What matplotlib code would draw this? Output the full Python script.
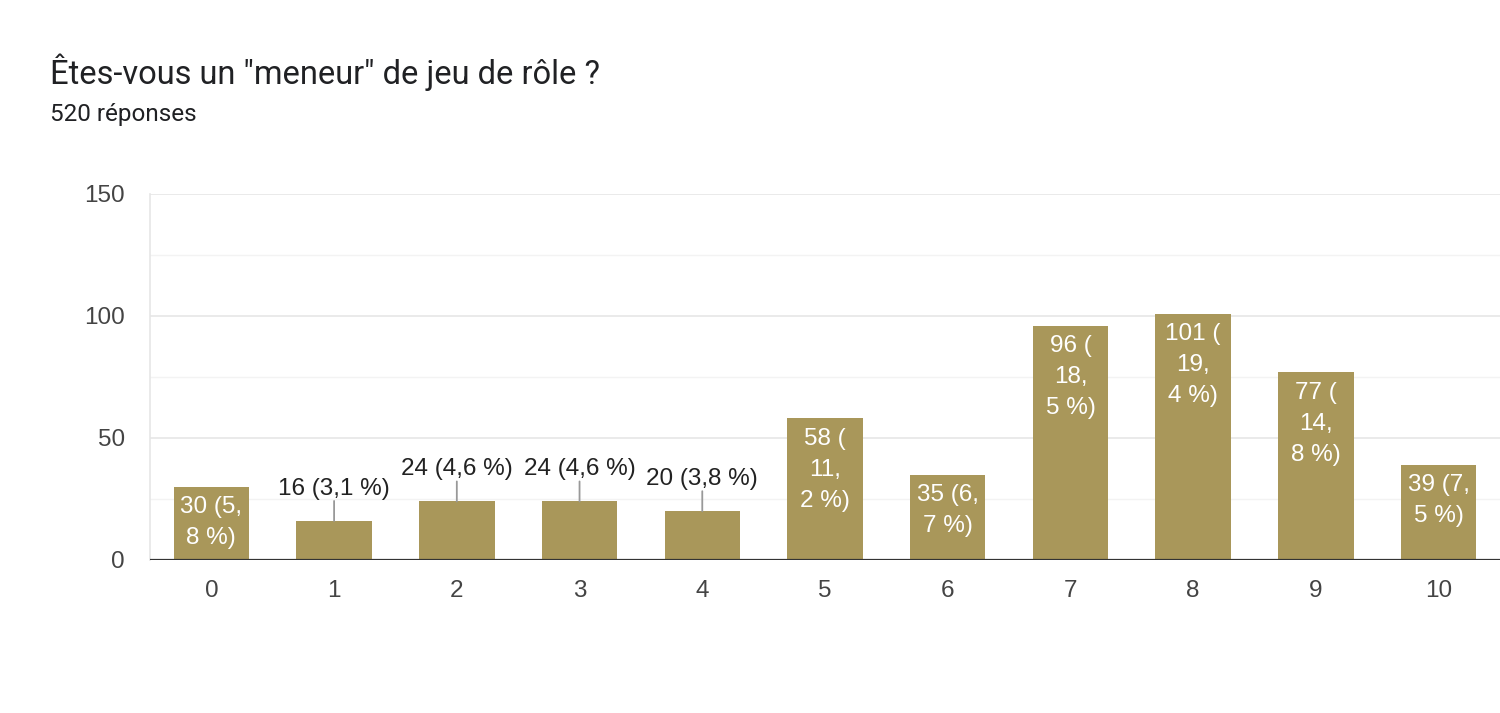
import matplotlib
matplotlib.use("Agg")
import matplotlib.pyplot as plt

categories = ["0", "1", "2", "3", "4", "5", "6", "7", "8", "9", "10"]
values = [30, 16, 24, 24, 20, 58, 35, 96, 101, 77, 39]
labels = ["30 (5,\n8 %)", "16 (3,1 %)", "24 (4,6 %)", "24 (4,6 %)", "20 (3,8 %)",
          "58 (\n11,\n2 %)", "35 (6,\n7 %)", "96 (\n18,\n5 %)", "101 (\n19,\n4 %)",
          "77 (\n14,\n8 %)", "39 (7,\n5 %)"]
inside = [True, False, False, False, False, True, True, True, True, True, True]
yticks = [0, 50, 100, 150]
minor_ticks = [25, 75, 125]

title = 'Êtes-vous un "meneur" de jeu de rôle ?'
subtitle = "520 réponses"

bar_color = "#a9975a"
px = 72 / 100.0  # points per pixel
fs = 17.5

fig = plt.figure(figsize=(15, 7.13), dpi=100)
ax = fig.add_axes([0.1, 1 - 560 / 713, 0.9, (560 - 194) / 713])

x = list(range(len(categories)))
ax.bar(x, values, width=0.615, color=bar_color, zorder=3)

ax.set_xlim(-0.5, 10.5)
ax.set_ylim(0, 150)

for t in yticks[1:]:
    ax.axhline(t, color="#e6e6e6", lw=1.2, zorder=1)
for t in minor_ticks:
    ax.axhline(t, color="#f3f3f3", lw=1.0, zorder=1)
ax.axhline(0, color="#333333", lw=1.6, zorder=4)

for s in ["top", "right", "bottom"]:
    ax.spines[s].set_visible(False)
ax.spines["left"].set_color("#e6e6e6")
ax.spines["left"].set_linewidth(1.2)

ax.set_yticks(yticks)
ax.set_yticklabels([str(t) for t in yticks])
ax.set_xticks(x)
ax.set_xticklabels(categories)
ax.tick_params(axis="both", length=0, labelsize=fs, labelcolor="#444444",
               labelfontfamily="Liberation Sans")
ax.tick_params(axis="y", pad=18)
ax.tick_params(axis="x", pad=14.5)

for xi, v, lab, ins in zip(x, values, labels, inside):
    if ins:
        for i, line in enumerate(lab.split("\n")):
            ax.annotate(line, (xi, v), xytext=(0, -(20.5 + 31 * i) * px),
                        textcoords="offset points", ha="center", va="center",
                        color="white", fontsize=fs, family="Liberation Sans",
                        zorder=5)
    else:
        ax.annotate("", (xi, v), xytext=(0, 20 * px), textcoords="offset points",
                    arrowprops=dict(arrowstyle="-", color="#999999", lw=1.3,
                                    shrinkA=0, shrinkB=0), zorder=5)
        ax.annotate(lab, (xi, v), xytext=(0, 32 * px), textcoords="offset points",
                    ha="center", va="center", color="#222222", fontsize=fs,
                    family="Liberation Sans", zorder=5)

fig.text(50 / 1500, 1 - 72 / 713, title, fontsize=23.5, family="Roboto",
         color="#202124", va="center", ha="left")
fig.text(50 / 1500, 1 - 115 / 713, subtitle, fontsize=17.5, family="Roboto",
         color="#202124", va="center", ha="left")

fig.savefig("out.png", dpi=100)
